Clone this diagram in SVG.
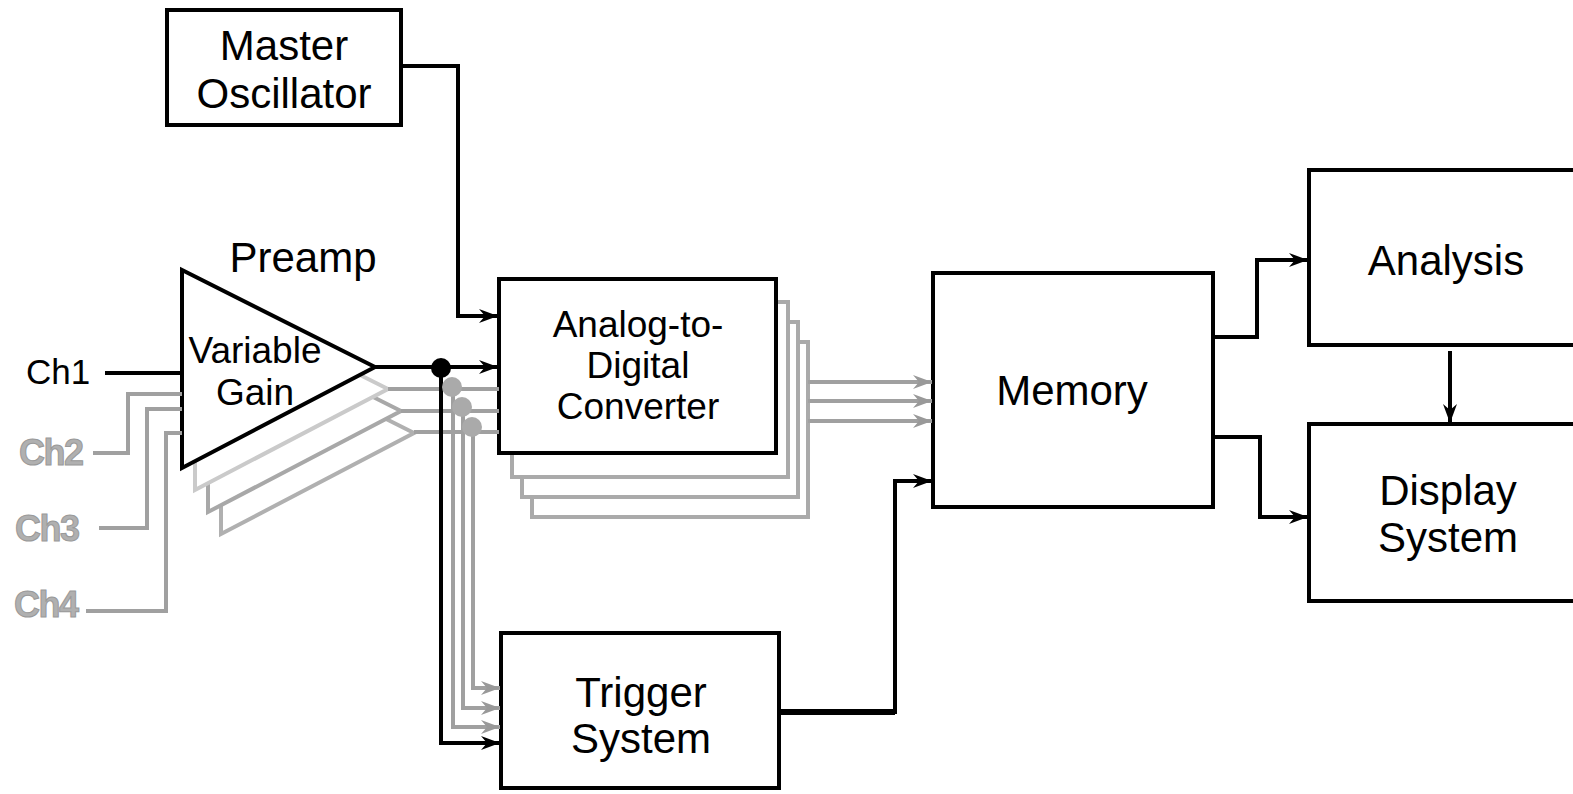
<svg xmlns="http://www.w3.org/2000/svg" width="1573" height="794" viewBox="0 0 1573 794">
<style>
.box{fill:#fff;stroke:#000;stroke-width:4}
.sh{fill:#fff;stroke:#aaa;stroke-width:4}
.t{font-family:"Liberation Sans",Arial,sans-serif;font-size:42px;fill:#000;text-anchor:middle}
.ts{font-size:37px}
.ch{font-family:"Liberation Sans",Arial,sans-serif;font-size:36px;font-weight:bold;fill:#b0b0b0;stroke:#999;stroke-width:1;letter-spacing:-1.5px}
.k{fill:none;stroke:#000;stroke-width:4}
.g{fill:none;stroke:#a0a0a0;stroke-width:4}
.ka{marker-end:url(#ak)}
.ga{marker-end:url(#ag)}
</style>
<defs>
<marker id="ak" markerUnits="userSpaceOnUse" viewBox="0 -8 20 16" refX="19" refY="0" markerWidth="20" markerHeight="16" orient="auto"><path d="M0,-7 L19,0 L0,7 L6,0 Z" fill="#000"/></marker>
<marker id="ag" markerUnits="userSpaceOnUse" viewBox="0 -8 20 16" refX="19" refY="0" markerWidth="20" markerHeight="16" orient="auto"><path d="M0,-7 L19,0 L0,7 L6,0 Z" fill="#999"/></marker>
</defs>

<g id="master-oscillator">
<rect class="box" x="167" y="10" width="234" height="115"/>
<text class="t" x="284" y="60">Master</text>
<text class="t" x="284" y="108">Oscillator</text>
</g>

<g id="preamp">
<polygon points="221,336 221,534 414,433" fill="#fff" stroke="#b0b0b0" stroke-width="4"/>
<polygon points="208,314 208,512 401,411" fill="#fff" stroke="#a8a8a8" stroke-width="4"/>
<polygon points="195,292 195,490 388,389" fill="#fff" stroke="#cacaca" stroke-width="4"/>
<polygon points="182,270 182,468 375,367" fill="#fff" stroke="#000" stroke-width="4"/>
<text class="t" x="303" y="272">Preamp</text>
<text class="t ts" x="255" y="363">Variable</text>
<text class="t ts" x="255" y="405">Gain</text>
</g>

<g id="inputs">
<text x="26" y="384" font-family="'Liberation Sans',Arial,sans-serif" font-size="35">Ch1</text>
<text class="ch" x="19" y="465">Ch2</text>
<text class="ch" x="15" y="541">Ch3</text>
<text class="ch" x="14" y="617">Ch4</text>
</g>

<g id="adc">
<rect class="sh" x="532" y="342" width="276" height="175"/>
<rect class="sh" x="522" y="322" width="276" height="175"/>
<rect class="sh" x="512" y="302" width="276" height="175"/>
<rect class="box" x="499" y="279" width="277" height="174"/>
<text class="t ts" x="638" y="337">Analog-to-</text>
<text class="t ts" x="638" y="378">Digital</text>
<text class="t ts" x="638" y="419">Converter</text>
</g>

<g id="trigger">
<rect class="box" x="501" y="633" width="278" height="155"/>
<text class="t" x="641" y="707">Trigger</text>
<text class="t" x="641" y="753">System</text>
</g>

<g id="memory">
<rect class="box" x="933" y="273" width="280" height="234"/>
<text class="t" x="1072" y="405">Memory</text>
</g>

<g id="analysis">
<rect class="box" x="1309" y="170" width="280" height="175"/>
<text class="t" x="1446" y="275">Analysis</text>
</g>

<g id="display">
<rect class="box" x="1309" y="424" width="280" height="177"/>
<text class="t" x="1448" y="505">Display</text>
<text class="t" x="1448" y="552">System</text>
</g>

<g id="connectors">
<path class="k" d="M105,373 H182"/>
<path class="g" d="M93,453 H128 V394 H182"/>
<path class="g" d="M99,528 H147 V409 H182"/>
<path class="g" d="M86,611 H166 V433 H182"/>
<path class="k ka" d="M401,66 H458 V316 H498"/>
<path class="g" d="M388,389 H499"/>
<path class="g" d="M401,411 H499"/>
<path class="g" d="M414,432 H499"/>
<path class="g ga" d="M473,427 V688 H500"/>
<path class="g ga" d="M463,407 V708 H500"/>
<path class="g ga" d="M453,387 V727 H500"/>
<path class="k ka" d="M375,367 H498"/>
<path class="k ka" d="M441,368 V743 H500"/>
<circle cx="441" cy="368" r="10" fill="#000"/>
<circle cx="452" cy="387" r="10" fill="#aaa"/>
<circle cx="462" cy="407" r="10" fill="#aaa"/>
<circle cx="472" cy="427" r="10" fill="#aaa"/>
<path class="g ga" d="M808,382 H932"/>
<path class="g ga" d="M808,401 H932"/>
<path class="g ga" d="M808,421 H932"/>
<path fill="none" stroke="#000" stroke-width="6" d="M779,712 H895"/>
<path class="k ka" d="M895,714 V481 H932"/>
<path class="k ka" d="M1213,337 H1257 V260 H1308"/>
<path class="k ka" d="M1213,437 H1260 V517 H1308"/>
<path class="k ka" stroke-width="3" d="M1450,351 V423"/>
</g>
</svg>
